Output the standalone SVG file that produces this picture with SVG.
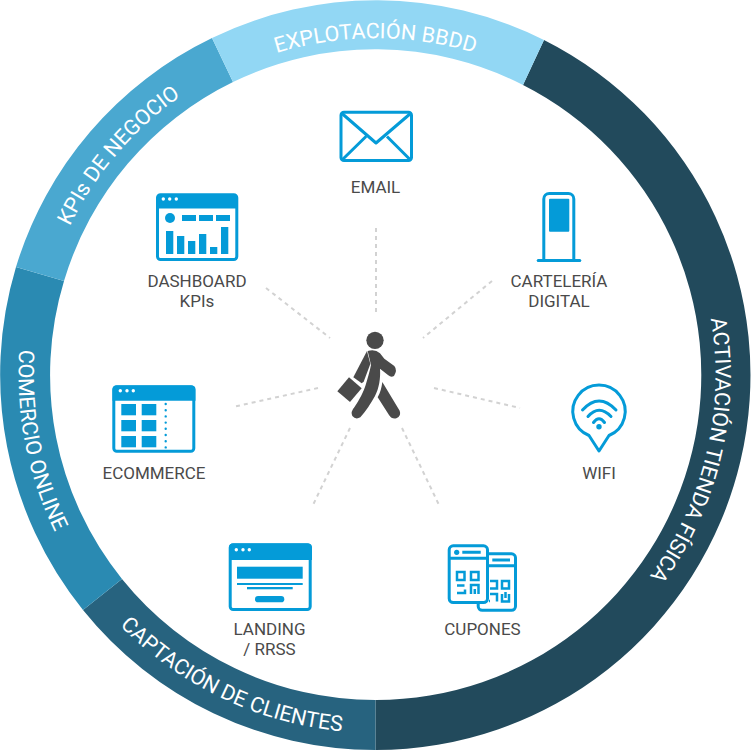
<svg xmlns="http://www.w3.org/2000/svg" width="751" height="751" viewBox="0 0 751 751">
<style>
.lbl{font-family:Roboto,"Liberation Sans",sans-serif;font-size:17px;fill:#4a4a4a;text-anchor:middle}
.rt{font-family:Roboto,"Liberation Sans",sans-serif;font-size:21.500px;fill:#fff;text-anchor:middle}
.o{fill:none;stroke:#049bd8;stroke-width:3;stroke-linejoin:round}
.q{fill:none;stroke:#049bd8;stroke-width:2.500}
.f{fill:#049bd8}
.w{fill:#fff}
.dash{fill:none;stroke:#d2d2d2;stroke-width:2;stroke-dasharray:4 4}
.p{fill:#4a4a4a}
</style>
<defs>
<path id="a1" d="M56 262A340 340 0 0 1 695 262"/>
<path id="a2" d="M79.600 542.500A340 340 0 0 1 494.600 56.500"/>
<path id="a3" d="M562.500 91A340 340 0 0 1 414.600 712.700"/>
<path id="a4" d="M191.600 69A357 357 0 0 0 319.700 727.600"/>
<path id="a5" d="M19.300 340.700A358 358 0 0 0 626.500 630.300"/>
</defs>
<rect width="751" height="751" fill="#fff"/>
<g id="ring-activacion"><path fill="#224a5c" d="M544 40A375 375 0 0 1 375.500 750L375.500 700A325 325 0 0 0 523 85Z"/><text class="rt"><textPath href="#a3" startOffset="50%">ACTIVACIÓN TIENDA FÍSICA</textPath></text></g>
<g id="ring-captacion"><path fill="#27637f" d="M375.500 750A375 375 0 0 1 83 610L122 579A325 325 0 0 0 375.500 700Z"/><text class="rt"><textPath href="#a5" startOffset="50%">CAPTACIÓN DE CLIENTES</textPath></text></g>
<g id="ring-comercio"><path fill="#2a8ab2" d="M83 610A375 375 0 0 1 16 267L64 281A325 325 0 0 0 122 579Z"/><text class="rt"><textPath href="#a4" startOffset="50%">COMERCIO ONLINE</textPath></text></g>
<g id="ring-kpis"><path fill="#4aa8d0" d="M16 267A375 375 0 0 1 212 38L233 82A325 325 0 0 0 64 281Z"/><text class="rt"><textPath href="#a2" startOffset="50%">KPIs DE NEGOCIO</textPath></text></g>
<g id="ring-explotacion"><path fill="#92d7f4" d="M212 38A375 375 0 0 1 544 40L523 85A325 325 0 0 0 233 82Z"/><text class="rt"><textPath href="#a1" startOffset="50%">EXPLOTACIÓN BBDD</textPath></text></g>

<g id="connectors" class="dash">
<path d="M376 228V315"/>
<path d="M492 281L423 338"/>
<path d="M434 388L520 408"/>
<path d="M402 428L440 507"/>
<path d="M350 428L312 507"/>
<path d="M318 388L233 407"/>
<path d="M266 288L330 338"/>
</g>

<g id="person" transform="translate(325 320) scale(.3333)">
<circle class="p" cx="150" cy="61" r="26"/>
<path class="p" d="M128 93Q150 86 165 100L178 116L208 138Q218 150 207 168Q198 173 190 166L165 146C167 175 162 205 150 228C138 250 122 274 106 292Q92 300 82 288Q76 275 88 262C103 240 116 215 122 195C128 175 134 155 138 135Z"/>
<path class="p" d="M126 93L85 172L110 190L116 185L136 132Z"/>
<path class="p" d="M172 186L224 272Q230 288 214 295Q200 298 192 285L158 232C166 218 170 202 172 186Z"/>
<path class="p" d="M72 172L110 205L75 246L37 214Z"/>
<path d="M85 177L106 191" stroke="#fff" stroke-width="3" fill="none"/>
</g>

<g id="email">
<rect class="o" x="341" y="112.300" width="70.500" height="48.300" rx="3"/>
<path class="o" d="M342 113.500L376 143L410.500 113.500M366 136.500L342.500 159.500M387 136.500L410 159.500"/>
<text class="lbl" x="375.500" y="193">EMAIL</text>
</g>

<g id="dashboard">
<rect class="o" x="157.500" y="194.800" width="79.300" height="64.700" rx="3"/>
<path class="f" d="M157 198a4 4 0 0 1 4-4h72a4 4 0 0 1 4 4v10.500h-80Z"/>
<g class="w"><circle cx="163.300" cy="199" r="1.700"/><circle cx="169.700" cy="199" r="1.700"/><circle cx="176.300" cy="199" r="1.700"/></g>
<circle class="f" cx="170" cy="218" r="5"/>
<g class="f">
<rect x="182" y="215" width="14" height="6"/><rect x="199" y="215" width="14" height="6"/><rect x="216" y="215" width="14" height="6"/>
<rect x="166" y="231" width="7.300" height="23"/><rect x="177" y="236" width="7.300" height="18"/><rect x="188" y="241" width="7.300" height="13"/><rect x="199" y="234" width="7.300" height="20"/><rect x="210" y="247" width="7.300" height="7"/><rect x="221" y="227" width="7.300" height="27"/>
</g>
<text class="lbl" x="197" y="287">DASHBOARD</text><text class="lbl" x="197" y="307">KPIs</text>
</g>

<g id="carteleria">
<path class="o" d="M543.800 260V199a5.500 5.500 0 0 1 5.500-5.500h19a5.500 5.500 0 0 1 5.500 5.500V260"/>
<rect class="f" x="549" y="198.700" width="20.300" height="33" rx="1"/>
<rect class="f" x="536.700" y="259" width="44.600" height="3" rx="1.500"/>
<text class="lbl" x="559" y="287">CARTELERÍA</text><text class="lbl" x="559" y="307">DIGITAL</text>
</g>

<g id="wifi">
<path class="o" d="M589 435.500A26.200 26.200 0 1 1 609 435.500L599 451Z"/>
<path d="M582.500 410Q599 392 616 410M588 416.500Q599 404 611 416.500M593.500 422.500Q599 415 604.500 422.500" fill="none" stroke="#049bd8" stroke-width="3" stroke-linecap="round"/>
<circle class="f" cx="599" cy="426.700" r="2.700"/>
<text class="lbl" x="599" y="479">WIFI</text>
</g>

<g id="ecommerce">
<rect class="o" x="113.800" y="386.800" width="80" height="64.400" rx="3"/>
<path class="f" d="M112.500 389.500a4 4 0 0 1 4-4h75a4 4 0 0 1 4 4v11.200h-83Z"/>
<g class="w"><circle cx="120.300" cy="390.700" r="1.700"/><circle cx="127" cy="390.700" r="1.700"/><circle cx="133.300" cy="390.700" r="1.700"/></g>
<g class="f">
<rect x="121.300" y="404" width="14.700" height="11.300"/><rect x="141.700" y="404" width="14.600" height="11.300"/>
<rect x="121.300" y="420" width="14.700" height="11.300"/><rect x="141.700" y="420" width="14.600" height="11.300"/>
<rect x="121.300" y="436" width="14.700" height="11.300"/><rect x="141.700" y="436" width="14.600" height="11.300"/>
</g>
<path d="M165.700 404V448" fill="none" stroke="#049bd8" stroke-width="2.400" stroke-linecap="round" stroke-dasharray="0 6.200"/>
<text class="lbl" x="154" y="479">ECOMMERCE</text>
</g>

<g id="landing">
<rect class="o" x="230.200" y="544.800" width="80" height="64.700" rx="3"/>
<path class="f" d="M229 547.500a4 4 0 0 1 4-4h75a4 4 0 0 1 4 4v12.500h-83Z"/>
<g class="w"><circle cx="236.300" cy="549.700" r="1.700"/><circle cx="243" cy="549.700" r="1.700"/><circle cx="249.300" cy="549.700" r="1.700"/></g>
<g class="f">
<rect x="237" y="566.700" width="65.700" height="12"/>
<rect x="237" y="583" width="65.700" height="2"/>
<rect x="247" y="587" width="45.700" height="2.300"/>
<rect x="255" y="596" width="29.300" height="6.300" rx="3.150"/>
</g>
<text class="lbl" x="269.500" y="635">LANDING</text><text class="lbl" x="269.500" y="655">/ RRSS</text>
</g>

<g id="cupones">
<rect class="o" x="478.200" y="553.800" width="37.300" height="56.500" rx="4"/>
<path class="o" d="M489 565.700H516M492.300 560H510"/>
<path class="q" d="M490 581h7v7.500h-7M502 581h7v7.500h-7ZM490 594h7v7.500M490 601h-1M502 594v7.500h7v-7.500M505.500 592v6"/>
<rect class="w" x="447.700" y="544.300" width="41.300" height="59.700" rx="5"/>
<rect class="o" x="449.200" y="545.800" width="38.300" height="56.700" rx="4"/>
<path class="o" d="M449.200 558.300H487.500M462.300 552.300H480.700"/>
<circle class="f" cx="456.700" cy="552.300" r="2.600"/>
<path class="q" d="M457 572h7.500v8h-7.500ZM471 572h7.500v8h-7.500ZM457 585.500h7.500M457 593h8v-3.500M471 594v-9h7.500v9M474.800 589v5"/>
<text class="lbl" x="482.500" y="635">CUPONES</text>
</g>
</svg>
